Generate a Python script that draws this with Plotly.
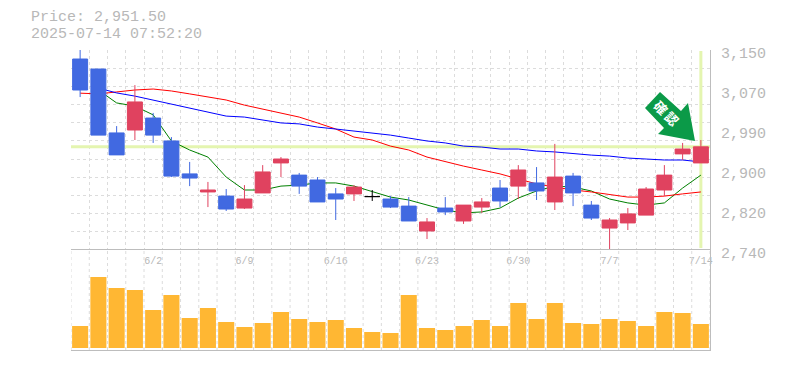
import plotly.graph_objects as go

# Daily candles, oldest first (5/27 .. 7/14)
dates = ["5/27","5/28","5/29","5/30","6/2","6/3","6/4","6/5","6/6","6/9","6/10","6/11","6/12","6/13","6/16","6/17","6/18","6/19","6/20","6/23","6/24","6/25","6/26","6/27","6/30","7/1","7/2","7/3","7/4","7/7","7/8","7/9","7/10","7/11","7/14"]
opens = [3131.5,3111,2980,2986,3010.5,2963.5,2896,2859,2850.5,2826,2857,2918.5,2893.5,2883.5,2855,2855,2849.5,2844.5,2830,2779,2826,2799.5,2828,2867,2871,2877.5,2838.5,2891.5,2832,2785,2795.5,2811.5,2863,2937,2918.5]
highs = [3150,3111,2994,3078,3021,2971.5,2920.5,2879.5,2865,2873,2914,2930.5,2898,2889.5,2867,2873,2863,2850.5,2848.5,2805.5,2848.5,2832,2846.5,2883.5,2914,2910,2957.5,2898,2840.5,2805.5,2826,2869,2914,2959.5,2965.5]
lows = [3053.5,2975.5,2935,2965.5,2959.5,2889.5,2871,2828,2820,2824,2857,2889.5,2855,2838.5,2801.5,2840.5,2840.5,2826,2799.5,2762.5,2811.5,2793.5,2816,2828,2844.5,2842.5,2822,2830,2801.5,2740,2781,2811.5,2850.5,2924.5,2918.5]
closes = [3068,2975.5,2935,3043.5,2975.5,2891.5,2887.5,2863,2824,2844.5,2900,2926.5,2871,2838.5,2844.5,2869,2849.5,2828,2799.5,2797.5,2818,2832,2838.5,2840.5,2904,2861,2889.5,2857,2805.5,2801.5,2814,2865,2893.5,2947,2951.5]
ma_short = [None,3068,3041.5,3035,3017,2963.5,2945,2930.5,2889.5,2863,2863,2871,2873,2877.5,2877.5,2871,2859,2848.5,2842.5,2832,2822,2816,2818,2826,2846.5,2861,2871,2869,2861,2844.5,2836.5,2832,2836.5,2867,2893.5]
ma_mid = [3061.5,3060,3064,3068,3070,3066,3060,3053.5,3047.5,3037,3029,3021,3012.5,3000.5,2988,2971.5,2965.5,2953,2945,2930.5,2920.5,2912,2904,2896,2885.5,2875.5,2869,2863,2859,2853,2848.5,2848.5,2850.5,2855,2859]
ma_long = [None,3072,3062,3055.5,3047.5,3039.5,3031,3023,3014.5,3012.5,3006.5,3000.5,2998.5,2992,2988,2984,2980,2975.5,2969.5,2963.5,2959.5,2953,2951,2947,2947,2943,2941,2937,2934.5,2932.5,2928.5,2926.5,2924.5,2924.5,2920.5]
volumes = [22,71,60,58,38,53,30,40,26,21,25,36,29,26,28,20,16,15,53,20,18,22,28,22,45,29,45,25,24,29,27,22,36,35,24]

price_now = 2951.50
stamp = "2025-07-14 07:52:20"
price_label = "Price: 2,951.50"
y_tick_values = [3150,3068,2986,2904,2822,2740]
y_tick_labels = ["3,150","3,070","2,990","2,900","2,820","2,740"]
x_label_days = [4,9,14,19,24,29,34]

UP, DOWN = "#E0425F", "#4169E1"
GRID, AXIS, TEXT = "#DCDCDC", "#BDBDBD", "#B8B8B8"
FONT = "Liberation Mono"
W, H = 785, 370
L, R, T, B = 71, 75, 50, 20
P_LO, P_HI = 2740, 3150

xs = list(range(len(dates)))
doji = [i for i in xs if opens[i] == closes[i]]
plain = [i for i in xs if i not in doji]
boundaries = [i - 0.5 for i in range(36)]

fig = go.Figure()
fig.add_trace(go.Scatter(x=[-0.5, 34.5], y=[price_now, price_now], mode="lines",
                         line=dict(color="#E4F5B0", width=3), xaxis="x", yaxis="y"))
fig.add_trace(go.Scatter(x=[34, 34], y=[P_LO + 4, P_HI - 2], mode="lines",
                         line=dict(color="#E4F5B0", width=3), xaxis="x", yaxis="y"))
for vals, col in ((ma_short, "#008000"), (ma_mid, "#FF0000"), (ma_long, "#0000FF")):
    fig.add_trace(go.Scatter(x=xs, y=vals, mode="lines", line=dict(color=col, width=1),
                             xaxis="x", yaxis="y"))
fig.add_trace(go.Candlestick(
    x=plain, open=[opens[i] for i in plain], high=[highs[i] for i in plain],
    low=[lows[i] for i in plain], close=[closes[i] for i in plain], whiskerwidth=0,
    increasing=dict(line=dict(color=UP, width=1), fillcolor=UP),
    decreasing=dict(line=dict(color=DOWN, width=1), fillcolor=DOWN),
    xaxis="x3", yaxis="y3"))
fig.add_trace(go.Candlestick(
    x=doji, open=[opens[i] for i in doji], high=[highs[i] for i in doji],
    low=[lows[i] for i in doji], close=[closes[i] for i in doji], whiskerwidth=0,
    increasing=dict(line=dict(color="#000000", width=1), fillcolor="#000000"),
    decreasing=dict(line=dict(color="#000000", width=1), fillcolor="#000000"),
    xaxis="x3", yaxis="y3"))
fig.add_bar(x=xs, y=volumes, width=0.88, marker=dict(color="#FFB733", line_width=0), xaxis="x2", yaxis="y2")

y_grid = [P_HI - k * (P_HI - P_LO) / 11 for k in range(12)]
fig.update_layout(
    width=W, height=H, margin=dict(l=L, r=R, t=T, b=B), autosize=False,
    paper_bgcolor="white", plot_bgcolor="white", showlegend=False, boxgap=0.18, boxgroupgap=0,
    xaxis=dict(range=[-0.5, 34.5], domain=[0, 1], anchor="y", rangeslider=dict(visible=False),
               zeroline=False, showline=False, showgrid=False, ticks="",
               minor=dict(tickvals=boundaries, showgrid=True, gridcolor=GRID, griddash="3px,3px", gridwidth=1, ticks=""),
               tickmode="array", tickvals=x_label_days, ticktext=[dates[i] for i in x_label_days],
               tickfont=dict(family=FONT, size=10, color=TEXT), ticklen=0, ticklabelstandoff=3),
    xaxis2=dict(range=[-0.5, 34.5], domain=[0, 1], anchor="y2", showticklabels=False, zeroline=False,
                showline=True, mirror=True, linecolor=AXIS, linewidth=1, ticks="", showgrid=False),
    xaxis3=dict(range=[-0.5, 34.5], overlaying="x", visible=False, rangeslider=dict(visible=False), anchor="y3"),
    yaxis=dict(domain=[1/3, 1], range=[P_LO, P_HI], side="right", anchor="x", showgrid=False,
               zeroline=False, showline=True, linecolor=AXIS, showticklabels=False, ticks="",
               minor=dict(tickvals=y_grid, showgrid=True, gridcolor=GRID, griddash="3px,3px", ticks="")),
    yaxis2=dict(domain=[0, 1/3], range=[-2, 98], side="right", anchor="x2", showgrid=False,
                zeroline=False, showline=True, linecolor=AXIS, showticklabels=False, ticks=""),
    yaxis3=dict(range=[P_LO, P_HI], overlaying="y", visible=False, anchor="x3"),
)

for b in boundaries:
    fig.add_shape(type="line", xref="x2", yref="y2", x0=b, x1=b, y0=-2, y1=98, layer="between",
                  line=dict(color=GRID, width=1, dash="3px,3px"))

def px(x, y):
    return (x - L) / (W - L - R), 1 - (y - T) / (H - T - B)

def data_xy(x, y):
    return (x - L) / (W - L - R) * 35 - 0.5, P_HI - (y - T) / 200 * (P_HI - P_LO)

for text, x, y in ((price_label, 29, 18), (stamp, 29, 35)):
    a, b = px(x, y)
    fig.add_annotation(xref="paper", yref="paper", x=a, y=b, text=text, xanchor="left", yanchor="middle",
                       showarrow=False, font=dict(family=FONT, size=15, color=TEXT))
for v, lab in zip(y_tick_values, y_tick_labels):
    fig.add_annotation(xref="paper", yref="y", x=1, y=v, xshift=9, yshift=-4, text=lab, xanchor="left",
                       yanchor="middle", showarrow=False, font=dict(family=FONT, size=15, color=TEXT))

arrow = [(660, 92), (645, 108), (664, 128), (658, 134), (695, 141), (688, 103), (681, 111)]
path = ""
for i, (x, y) in enumerate(arrow):
    a, b = data_xy(x, y)
    path += ("M" if i == 0 else "L") + f"{a:.4f},{b:.3f} "
fig.add_shape(type="path", path=path + "Z", xref="x", yref="y", fillcolor="#0B9A48", line_width=0, layer="between")
ax, ay = px(666, 113)
fig.add_annotation(xref="paper", yref="paper", x=ax, y=ay, text="<b>確\u2009認</b>", textangle=45, showarrow=False,
                   xanchor="center", yanchor="middle",
                   font=dict(family="Noto Sans CJK JP", size=13, color="white"))

fig.write_html("out.html", config=dict(displayModeBar=False), post_script="document.body.style.margin='0';")
